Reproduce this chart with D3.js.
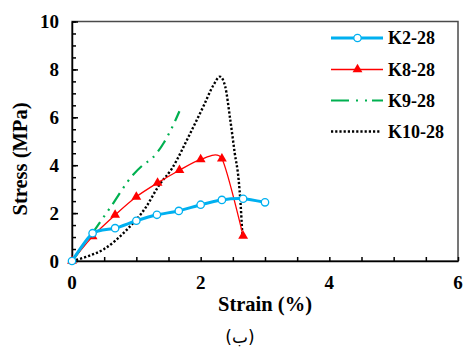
<!DOCTYPE html>
<html lang="en">
<head>
<meta charset="utf-8">
<title>Stress-strain</title>
<script src="https://cdn.jsdelivr.net/npm/d3@7"></script>
<style>
  body { margin: 0; background: #fff; }
  svg { display: block; }
  .lbl { font-family: "Liberation Serif", "Times New Roman", serif; font-weight: bold; fill: #000; }
</style>
</head>
<body>
<script>
// data
var k2Strain  = [0, 0.32, 0.67, 1.0, 1.32, 1.66, 2.0, 2.33, 2.66, 3.0];
var k2Stress  = [0, 1.16, 1.37, 1.68, 1.93, 2.09, 2.35, 2.55, 2.60, 2.45];
var k8Strain  = [0, 0.32, 0.67, 1.0, 1.33, 1.67, 2.0, 2.33, 2.66];
var k8Stress  = [0, 1.03, 1.92, 2.68, 3.26, 3.79, 4.24, 4.27, 1.05];
var k9Strain  = [0, 0.3, 0.6, 0.95, 1.1, 1.25, 1.43, 1.56, 1.67];
var k9Stress  = [0, 1.1, 2.25, 3.6, 4.0, 4.3, 4.95, 5.6, 6.25];
var k10Strain = [0, 0.25, 0.5, 0.85, 1.15, 1.35, 1.55, 1.85, 2.05, 2.2, 2.3, 2.38, 2.46, 2.53, 2.59, 2.62, 2.65];
var k10Stress = [0, 0.2, 0.5, 1.3, 2.25, 3.15, 3.85, 5.4, 6.5, 7.35, 7.7, 7.3, 5.9, 4.5, 3.4, 2.4, 1.0];
var seriesNames = ["K2-28", "K8-28", "K9-28", "K10-28"];
var xTicks = [0, 2, 4, 6];
var yTicks = [0, 2, 4, 6, 8, 10];

var W = 463, H = 347;
var pLeft = 72, pTop = 21.5, pRight = 458, pBottom = 261;

var svg = d3.select("body").append("svg")
    .attr("width", W).attr("height", H);

var x = d3.scaleLinear().domain([0, 6]).range([pLeft, pRight]);
var y = d3.scaleLinear().domain([0, 10]).range([pBottom, pTop]);

// frame (top and right)
svg.append("rect")
   .attr("x", pLeft).attr("y", pTop)
   .attr("width", pRight - pLeft).attr("height", pBottom - pTop)
   .attr("fill", "none").attr("stroke", "#4a4a4a").attr("stroke-width", 1.5);

// axes with inward ticks
var xAxis = d3.axisBottom(x).tickValues(d3.range(0, 6.01, 0.5))
    .tickSize(-4).tickSizeOuter(0).tickFormat("");
svg.append("g").attr("transform", "translate(0," + pBottom + ")").call(xAxis)
   .call(function(g){ g.selectAll("line, path").attr("stroke", "#000").attr("stroke-width", 1.5); });

var yMinor = d3.axisLeft(y).tickValues(d3.range(0, 10.01, 0.5))
    .tickSize(-4).tickSizeOuter(0).tickFormat("");
svg.append("g").attr("transform", "translate(" + pLeft + ",0)").call(yMinor)
   .call(function(g){ g.selectAll("line, path").attr("stroke", "#000").attr("stroke-width", 1.5); });
var yMajor = d3.axisLeft(y).tickValues(yTicks).tickSize(-6).tickFormat("");
svg.append("g").attr("transform", "translate(" + pLeft + ",0)").call(yMajor)
   .call(function(g){ g.select("path").remove(); g.selectAll("line").attr("stroke", "#000").attr("stroke-width", 1.5); });

// tick labels
svg.selectAll("text.xt").data(xTicks).enter().append("text")
   .attr("class", "lbl xt")
   .attr("x", function(d){ return x(d); }).attr("y", pBottom + 28)
   .attr("text-anchor", "middle").attr("font-size", 19)
   .text(function(d){ return d; });
svg.selectAll("text.yt").data(yTicks).enter().append("text")
   .attr("class", "lbl yt")
   .attr("x", pLeft - 13).attr("y", function(d){ return y(d) + 6.5; })
   .attr("text-anchor", "end").attr("font-size", 19)
   .text(function(d){ return d; });

// axis titles
svg.append("text").attr("class", "lbl")
   .attr("x", 265).attr("y", 311)
   .attr("text-anchor", "middle").attr("font-size", 20.5)
   .text("Strain (%)");
svg.append("text").attr("class", "lbl")
   .attr("transform", "translate(27,159) rotate(-90)")
   .attr("text-anchor", "middle").attr("font-size", 20.5)
   .text("Stress (MPa)");

svg.append("text")
   .attr("x", 240).attr("y", 343)
   .attr("text-anchor", "middle")
   .attr("font-family", "DejaVu Sans")
   .attr("font-size", 17)
   .text("(ب)");

function pts(xs, ys){ return xs.map(function(v, i){ return [v, ys[i]]; }); }

var smooth = d3.line().x(function(d){ return x(d[0]); }).y(function(d){ return y(d[1]); })
    .curve(d3.curveCardinal.tension(0.35));
var mono = d3.line().x(function(d){ return x(d[0]); }).y(function(d){ return y(d[1]); })
    .curve(d3.curveMonotoneX);

var k2 = pts(k2Strain, k2Stress), k8 = pts(k8Strain, k8Stress),
    k9 = pts(k9Strain, k9Stress), k10 = pts(k10Strain, k10Stress);

// K10-28 dotted
svg.append("path").attr("d", mono(k10))
   .attr("fill", "none").attr("stroke", "#000").attr("stroke-width", 2.4)
   .attr("stroke-dasharray", "2.2,2");
// K9-28 dash dot dot
svg.append("path").attr("d", mono(k9))
   .attr("fill", "none").attr("stroke", "#00B050").attr("stroke-width", 2.2)
   .attr("stroke-dasharray", "13,6,2,6,2,6");
// K8-28
svg.append("path").attr("d", smooth(k8))
   .attr("fill", "none").attr("stroke", "#FF0000").attr("stroke-width", 1.3);
svg.selectAll("path.tri").data(k8).enter().append("path")
   .attr("class", "tri")
   .attr("d", d3.symbol().type(d3.symbolTriangle).size(42))
   .attr("transform", function(d){ return "translate(" + x(d[0]) + "," + y(d[1]) + ")"; })
   .attr("fill", "#FF0000");
// K2-28
svg.append("path").attr("d", smooth(k2))
   .attr("fill", "none").attr("stroke", "#00B0F0").attr("stroke-width", 3);
svg.selectAll("circle.c2").data(k2).enter().append("circle")
   .attr("class", "c2")
   .attr("cx", function(d){ return x(d[0]); }).attr("cy", function(d){ return y(d[1]); })
   .attr("r", 3.7).attr("fill", "#fff").attr("stroke", "#00B0F0").attr("stroke-width", 1.3);

// legend
var legY = [38, 69.5, 100.5, 131.5];
var lg = svg.append("g");
lg.append("line").attr("x1", 331).attr("x2", 383).attr("y1", legY[0]).attr("y2", legY[0])
  .attr("stroke", "#00B0F0").attr("stroke-width", 3);
lg.append("circle").attr("cx", 357.5).attr("cy", legY[0]).attr("r", 3.7)
  .attr("fill", "#fff").attr("stroke", "#00B0F0").attr("stroke-width", 1.3);
lg.append("line").attr("x1", 331).attr("x2", 383).attr("y1", legY[1]).attr("y2", legY[1])
  .attr("stroke", "#FF0000").attr("stroke-width", 1.3);
lg.append("path").attr("d", d3.symbol().type(d3.symbolTriangle).size(42))
  .attr("transform", "translate(357.5," + legY[1] + ")").attr("fill", "#FF0000");
lg.append("line").attr("x1", 331).attr("x2", 383).attr("y1", legY[2]).attr("y2", legY[2])
  .attr("stroke", "#00B050").attr("stroke-width", 2.2).attr("stroke-dasharray", "18,7,2,7,2,5,18");
lg.append("line").attr("x1", 331).attr("x2", 381).attr("y1", legY[3]).attr("y2", legY[3])
  .attr("stroke", "#000").attr("stroke-width", 2.4).attr("stroke-dasharray", "2.2,2");
lg.selectAll("text").data(seriesNames).enter().append("text")
  .attr("class", "lbl")
  .attr("x", 388).attr("y", function(d, i){ return legY[i] + 6; })
  .attr("font-size", 18)
  .text(function(d){ return d; });
</script>
</body>
</html>
